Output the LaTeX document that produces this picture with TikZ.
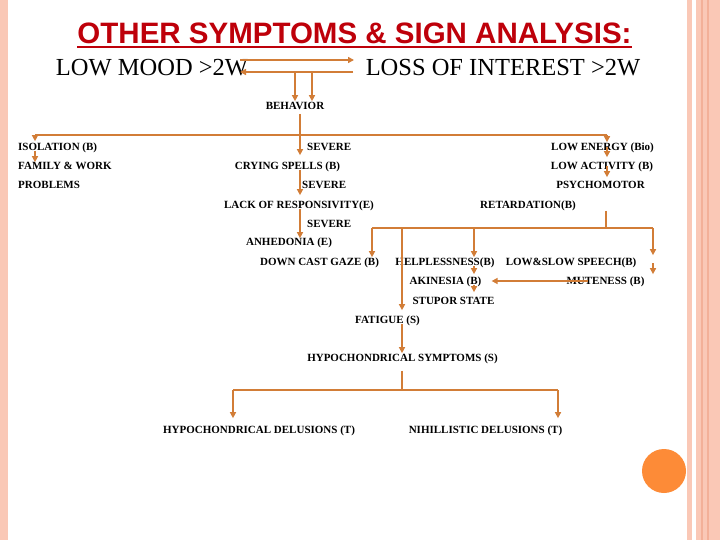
\documentclass[tikz,border=0pt]{standalone}
\usepackage{fontspec}
\setmainfont{Liberation Serif}
\newfontfamily\titlefont{Liberation Sans}
\usetikzlibrary{arrows.meta}
\definecolor{linkorange}{RGB}{210,125,55}
\definecolor{titlered}{RGB}{190,0,10}
\definecolor{edgepink}{RGB}{250,200,182}
\definecolor{edgeline}{RGB}{243,176,152}
\definecolor{dotorange}{RGB}{253,139,55}
\tikzset{
    lbl/.style={inner sep=0pt, text height=7.3pt, text depth=0pt, font=\fontsize{11}{13}\selectfont\bfseries},
    head/.style={inner sep=0pt, text height=15.8pt, text depth=0pt, font=\fontsize{24.5}{28}\selectfont},
    heading/.style={inner sep=0pt, text height=20.5pt, text depth=0pt, text=titlered, font=\titlefont\bfseries\fontsize{29.5}{32}\selectfont},
    wire/.style={draw=linkorange, line width=1.8pt},
    link/.style={wire, -{Triangle[length=6pt,width=6pt]}},
}
\begin{document}
\begin{tikzpicture}[x=1pt, y=-1pt]
            \useasboundingbox (0,0) rectangle (720,540);
            \fill[white] (0,0) rectangle (720,540);
            \fill[edgepink] (0,0) rectangle (8,540);
            \fill[edgepink] (687,0) rectangle (692,540);
            \fill[edgepink] (696,0) rectangle (720,540);
            \fill[edgeline] (701,0) rectangle (703,540);
            \fill[edgeline] (707,0) rectangle (709,540);
            \fill[dotorange] (664,471) circle[radius=22pt];

            \node[heading] (title) at (354.5,33) {OTHER SYMPTOMS \& SIGN ANALYSIS:};
            \draw[titlered, line width=2.8pt] ([yshift=-3.5pt]title.south west) -- ([yshift=-3.5pt]title.south east);
            \node[head] (mood) at (152,68) {LOW MOOD >2W};
            \node[head] (interest) at (503,68) {LOSS OF INTEREST >2W};
            \node[lbl] (behavior) at (295,106) {BEHAVIOR};

            \node[lbl, anchor=west] (isolation) at (18,147) {ISOLATION (B)};
            \node[lbl, anchor=west] (family) at (18,166) {FAMILY \& WORK};
            \node[lbl, anchor=west] (problems) at (18,185) {PROBLEMS};

            \node[lbl, anchor=west] (severeA) at (307,147) {SEVERE};
            \node[lbl] (crying) at (287.5,166) {CRYING SPELLS (B)};
            \node[lbl, anchor=west] (severeB) at (302,185) {SEVERE};
            \node[lbl] (lack) at (299,205) {LACK OF RESPONSIVITY(E)};
            \node[lbl, anchor=west] (severeC) at (307,224) {SEVERE};
            \node[lbl] (anhedonia) at (289,242) {ANHEDONIA (E)};
            \node[lbl] (gaze) at (319.5,262) {DOWN CAST GAZE (B)};

            \node[lbl] (energy) at (602.5,147) {LOW ENERGY (Bio)};
            \node[lbl] (activity) at (602,166) {LOW ACTIVITY (B)};
            \node[lbl] (psycho) at (600.5,185) {PSYCHOMOTOR};
            \node[lbl] (retard) at (528,205) {RETARDATION(B)};

            \node[lbl] (helpless) at (445,262) {HELPLESSNESS(B)};
            \node[lbl] (speech) at (571,262) {LOW\&SLOW SPEECH(B)};
            \node[lbl] (akinesia) at (445.5,281) {AKINESIA (B)};
            \node[lbl] (muteness) at (605.5,281) {MUTENESS (B)};
            \node[lbl] (stupor) at (453.5,301) {STUPOR STATE};
            \node[lbl] (fatigue) at (387.5,320) {FATIGUE (S)};
            \node[lbl] (hypo) at (402.5,358) {HYPOCHONDRICAL SYMPTOMS (S)};
            \node[lbl] (hypodel) at (259,430) {HYPOCHONDRICAL DELUSIONS (T)};
            \node[lbl] (nihil) at (485.5,430) {NIHILLISTIC DELUSIONS (T)};

            \coordinate (moodA) at (240,60);
            \coordinate (interestA) at (354,60);
            \coordinate (interestB) at (353,72);
            \coordinate (moodB) at (240,72);
            \draw[link] (moodA) -- (interestA);
            \draw[link] (interestB) -- (moodB);
            \draw[link] (moodB -| behavior.north) -- ([yshift=1pt]behavior.north);
            \draw[link] ([xshift=17pt]behavior.north |- moodB) -- ([xshift=17pt,yshift=1pt]behavior.north);

            \coordinate (busA) at (300,135);
            \coordinate (busAL) at (35,135);
            \coordinate (busAR) at (607,135);
            \draw[wire] ([yshift=-4pt]behavior.south -| busA) -- (busA);
            \draw[wire] (busAL) -- (busAR);
            \draw[link] (busAL) -- ([yshift=2pt]isolation.north -| busAL);
            \draw[link] (isolation.south -| busAL) -- (family.north -| busAL);
            \draw[link] (busA) -- ([yshift=7pt]crying.north -| busA);
            \draw[link] (crying.south -| busA) -- ([yshift=6pt]lack.north -| busA);
            \draw[link] (lack.south -| busA) -- (anhedonia.north -| busA);
            \draw[link] (busAR) -- ([yshift=1pt]energy.north -| busAR);
            \draw[link] (energy.center -| busAR) -- ([yshift=5pt]activity.north -| busAR);
            \draw[link] (activity.center -| busAR) -- ([yshift=4pt]psycho.north -| busAR);

            \coordinate (busB) at (606,228);
            \coordinate (busBL) at (372,228);
            \coordinate (busBR) at (653,228);
            \coordinate (dropFat) at (402,228);
            \coordinate (dropHelp) at (474,228);
            \draw[wire] ([yshift=-2pt]retard.south -| busB) -- (busB);
            \draw[wire] (busBL) -- (busBR);
            \draw[link] (busBL) -- ([yshift=1pt]gaze.north -| busBL);
            \draw[link] (dropFat) -- ([yshift=6pt]fatigue.north -| dropFat);
            \draw[link] (dropHelp) -- ([yshift=1pt]helpless.north -| dropHelp);
            \draw[link] (busBR) -- ([yshift=3pt]speech.north -| busBR);
            \draw[link] ([yshift=-1pt]speech.center -| busBR) -- ([yshift=3pt]muteness.north -| busBR);
            \draw[link] (helpless.south -| dropHelp) -- ([yshift=3pt]akinesia.north -| dropHelp);
            \draw[link] (akinesia.south -| dropHelp) -- ([yshift=5pt]stupor.north -| dropHelp);
            \draw[link, {Triangle[length=6pt,width=6pt]}-] ([xshift=10pt]akinesia.east) -- ([xshift=22pt]muteness.west);

            \coordinate (busC) at (402,390);
            \coordinate (busCL) at (233,390);
            \coordinate (busCR) at (558,390);
            \draw[link] (fatigue.south -| dropFat) -- ([yshift=1pt]hypo.north -| dropFat);
            \draw[wire] ([yshift=-9pt]hypo.south -| busC) -- (busC);
            \draw[wire] (busCL) -- (busCR);
            \draw[link] (busCL) -- ([yshift=8pt]hypodel.north -| busCL);
            \draw[link] (busCR) -- ([yshift=8pt]nihil.north -| busCR);
\end{tikzpicture}
\end{document}
